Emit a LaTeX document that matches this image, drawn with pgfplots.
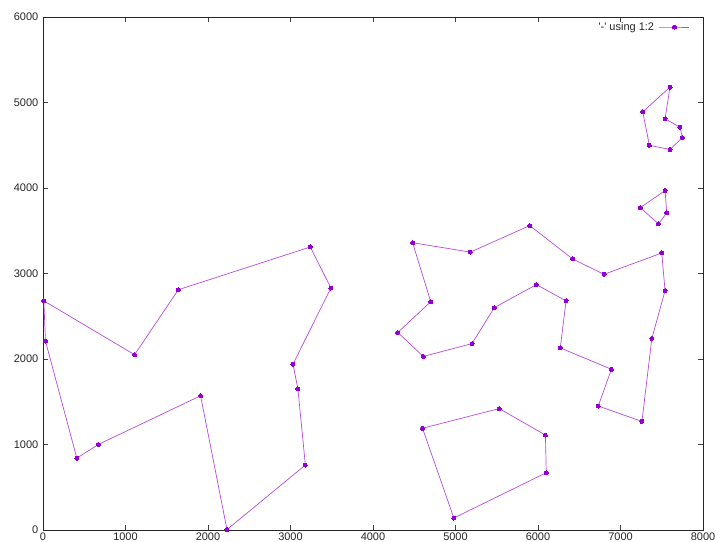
\documentclass[border=0pt]{standalone}
\usepackage{fontspec}
\setmainfont{Liberation Sans}
\usepackage{pgfplots}
\usepackage{pgfplotstable}
\pgfplotsset{compat=1.18}
\definecolor{gp}{RGB}{148,0,211}
\pgfplotstableread{
x y
10 2680
30 2210
410 840
670 1000
1910 1570
2230 5
3180 760
3090 1650
3030 1940
3490 2830
3240 3310
1640 2810
1110 2050
10 2680
nan nan
4480 3360
5180 3250
5900 3560
6420 3170
6800 2990
7500 3240
7540 2800
7380 2240
7260 1270
6730 1450
6890 1880
6270 2130
6340 2680
5980 2870
5470 2600
5200 2180
4610 2030
4300 2310
4700 2670
4480 3360
nan nan
4600 1190
5530 1420
6090 1110
6100 670
4980 140
4600 1190
nan nan
7600 5180
7270 4890
7350 4500
7600 4450
7750 4590
7720 4710
7540 4810
7600 5180
nan nan
7540 3970
7240 3770
7460 3580
7560 3710
7540 3970
}\tour
\begin{document}
\fontsize{11}{13}\selectfont
\begin{tikzpicture}
\begin{axis}[
  width=660pt, height=513pt, scale only axis,
  xmin=0, xmax=8000, ymin=0, ymax=6000,
  xtick={0,1000,...,8000}, ytick={0,1000,...,6000},
  tick align=inside, tick pos=both, major tick length=5pt,
  tick style={black!75, line width=0.6pt},
  axis line style={black!85, line width=0.8pt},
  scaled ticks=false,
  /pgf/number format/assume math mode=true,
  /pgf/number format/1000 sep={},
  tick label style={font=\fontsize{11}{13}\selectfont, text=black!85},
  xticklabel style={inner sep=0pt, yshift=-3pt},
  yticklabel style={inner sep=0pt, xshift=-4.5pt},
  unbounded coords=jump,
  legend plot pos=right,
  legend cell align=right,
  legend style={draw=none, fill=none, at={(axis description cs:1,1)}, anchor=north east,
    xshift=-13pt, yshift=-3pt, inner sep=0pt, font=\fontsize{11}{13}\selectfont, text=black!85},
]
\addplot[color=gp!70, line width=0.7pt, mark=*, mark size=2pt, mark options={solid, fill=gp, draw=gp, line width=0pt},
  legend image code/.code={\path (0pt,0pt); \draw[mark repeat=2, mark phase=2] plot coordinates {(3pt,0pt) (18pt,0pt) (33pt,0pt)};}
] table[x=x, y=y] {\tour};
\addlegendentry{\textquotesingle-\textquotesingle{} using 1:2}
\end{axis}
\pgfresetboundingbox
\path ([shift={(-43pt,-12pt)}]current axis.south west) rectangle ([shift={(12pt,17pt)}]current axis.north east);
\end{tikzpicture}
\end{document}
